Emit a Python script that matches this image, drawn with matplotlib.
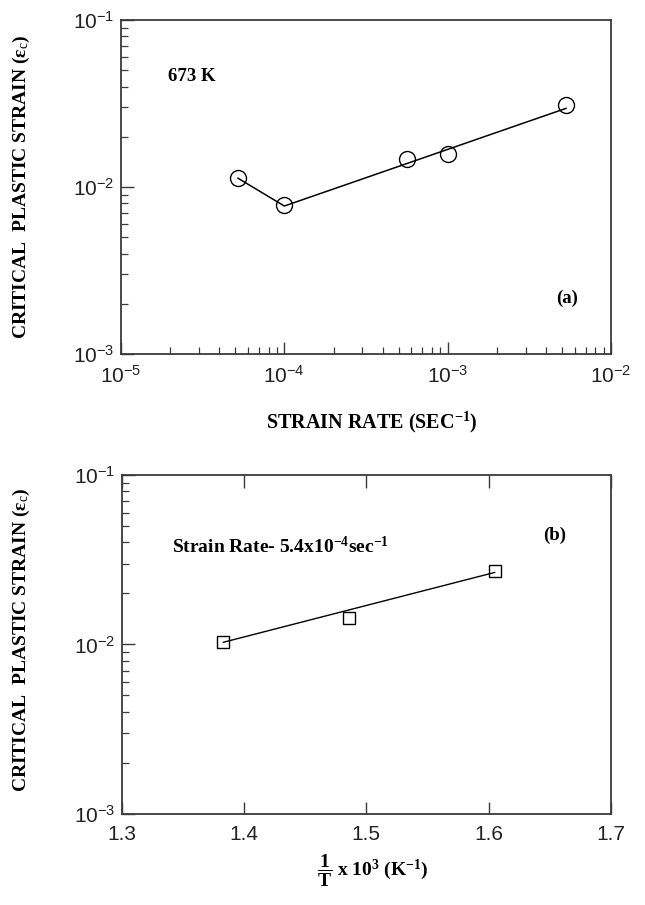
"""
Critical plastic strain vs strain rate (a) and vs 1/T (b).
"""

import matplotlib

matplotlib.use("Agg")
import matplotlib.pyplot as plt  # noqa: E402
import numpy as np  # noqa: E402
from matplotlib.ticker import FuncFormatter, LogLocator, NullFormatter  # noqa: E402

# ---- data ----
rate_a = [5.2e-5, 1.0e-4, 5.6e-4, 1.0e-3, 5.3e-3]
strain_a = [0.0113, 0.0078, 0.0147, 0.0158, 0.0308]
# drawn line: segment to the minimum, then straight fit to the last point
line_rate_a = [5.2e-5, 1.0e-4, 5.3e-3]
line_strain_a = [0.0113, 0.0077, 0.0296]

inv_t_b = [1.383, 1.486, 1.605]
strain_b = [0.0104, 0.0144, 0.0273]
line_inv_t_b = [1.383, 1.605]
line_strain_b = [0.0103, 0.0266]

x_ticks_b = [1.3, 1.4, 1.5, 1.6, 1.7]

plt.rcParams["font.family"] = ["Liberation Sans", "DejaVu Sans"]
plt.rcParams["mathtext.fontset"] = "custom"
plt.rcParams["mathtext.rm"] = "Liberation Serif"
plt.rcParams["mathtext.it"] = "Liberation Serif:italic"
plt.rcParams["mathtext.bf"] = "Liberation Serif:bold"
plt.rcParams["mathtext.sf"] = "Liberation Sans"

SPINE = "#3a3a3a"
serif = dict(family=["Liberation Serif", "DejaVu Serif"], weight="bold")


def _log_fmt(v, _pos):
    return r"$\mathsf{10^{%d}}$" % int(round(np.log10(v)))


def _style(ax):
    for s in ax.spines.values():
        s.set_color(SPINE)
        s.set_linewidth(1.3)
    ax.tick_params(which="both", direction="in", colors=SPINE, labelcolor="#222222",
                   labelsize=15, pad=7)
    ax.tick_params(which="major", length=9, width=1.0)
    ax.tick_params(which="minor", length=5, width=0.9)


fig = plt.figure(figsize=(6.45, 9.05), dpi=100)

# ---- panel (a) ----
ax1 = fig.add_axes([0.1876, 0.6088, 0.7597, 0.369])
ax1.set_xscale("log")
ax1.set_yscale("log")
ax1.set_xlim(1e-5, 1e-2)
ax1.set_ylim(1e-3, 1e-1)
ax1.plot(line_rate_a, line_strain_a, color="black", lw=1.1, zorder=2)
ax1.plot(rate_a, strain_a, ls="none", marker="o", ms=11.5, mfc="none", mec="black",
         mew=1.0, zorder=3)
for axis in (ax1.xaxis, ax1.yaxis):
    axis.set_major_locator(LogLocator(base=10, numticks=10))
    axis.set_minor_locator(LogLocator(base=10, subs=np.arange(2, 10), numticks=10))
    axis.set_major_formatter(FuncFormatter(_log_fmt))
    axis.set_minor_formatter(NullFormatter())
_style(ax1)
ax1.tick_params(axis="x", pad=8)
ax1.tick_params(axis="y", pad=5)
ax1.text(0.096, 0.83, "673 K", transform=ax1.transAxes, fontsize=13.5, va="center", **serif)
ax1.text(0.91, 0.167, "(a)", transform=ax1.transAxes, fontsize=13.5, ha="center",
         va="center", **serif)

# ---- panel (b) ----
ax2 = fig.add_axes([0.189, 0.1006, 0.758, 0.3746])
ax2.set_yscale("log")
ax2.set_xlim(1.3, 1.7)
ax2.set_ylim(1e-3, 1e-1)
ax2.plot(line_inv_t_b, line_strain_b, color="black", lw=1.0, zorder=2)
ax2.plot(inv_t_b, strain_b, ls="none", marker="s", ms=8, mfc="none", mec="black",
         mew=1.0, zorder=3)
ax2.set_xticks(x_ticks_b)
ax2.set_xticklabels([f"{v:.1f}" for v in x_ticks_b])
ax2.yaxis.set_major_locator(LogLocator(base=10, numticks=10))
ax2.yaxis.set_minor_locator(LogLocator(base=10, subs=np.arange(2, 10), numticks=10))
ax2.yaxis.set_major_formatter(FuncFormatter(_log_fmt))
ax2.yaxis.set_minor_formatter(NullFormatter())
_style(ax2)
ax2.tick_params(axis="x", which="major", top=True, pad=8)
ax2.tick_params(axis="y", pad=5)
ax2.text(0.102, 0.788, r"Strain Rate- 5.4x10$^{\mathbf{-4}}$sec$^{\mathbf{-1}}$",
         transform=ax2.transAxes, fontsize=14, va="center", **serif)
ax2.text(0.885, 0.823, "(b)", transform=ax2.transAxes, fontsize=13.5, ha="center",
         va="center", **serif)

# ---- axis titles ----
ylab = r"CRITICAL  PLASTIC STRAIN (ε$_{\mathrm{c}}$)"
fig.text(0.577, 1 - 422 / 905, r"STRAIN RATE (SEC$^{\mathbf{-1}}$)", ha="center",
         va="center", fontsize=14.5, **serif)
fig.text(0.034, 1 - 187 / 905, ylab, rotation=90, ha="center", va="center",
         fontsize=14, **serif)
fig.text(0.034, 1 - 640 / 905, ylab, rotation=90, ha="center", va="center",
         fontsize=14, **serif)
fig.text(0.578, 1 - 871 / 905, r"$\mathbf{\dfrac{1}{T}}$ x 10$^{\mathbf{3}}$ (K$^{\mathbf{-1}}$)",
         ha="center", va="center", fontsize=14, **serif)

fig.savefig("out.png", dpi=100)
plt.close(fig)
